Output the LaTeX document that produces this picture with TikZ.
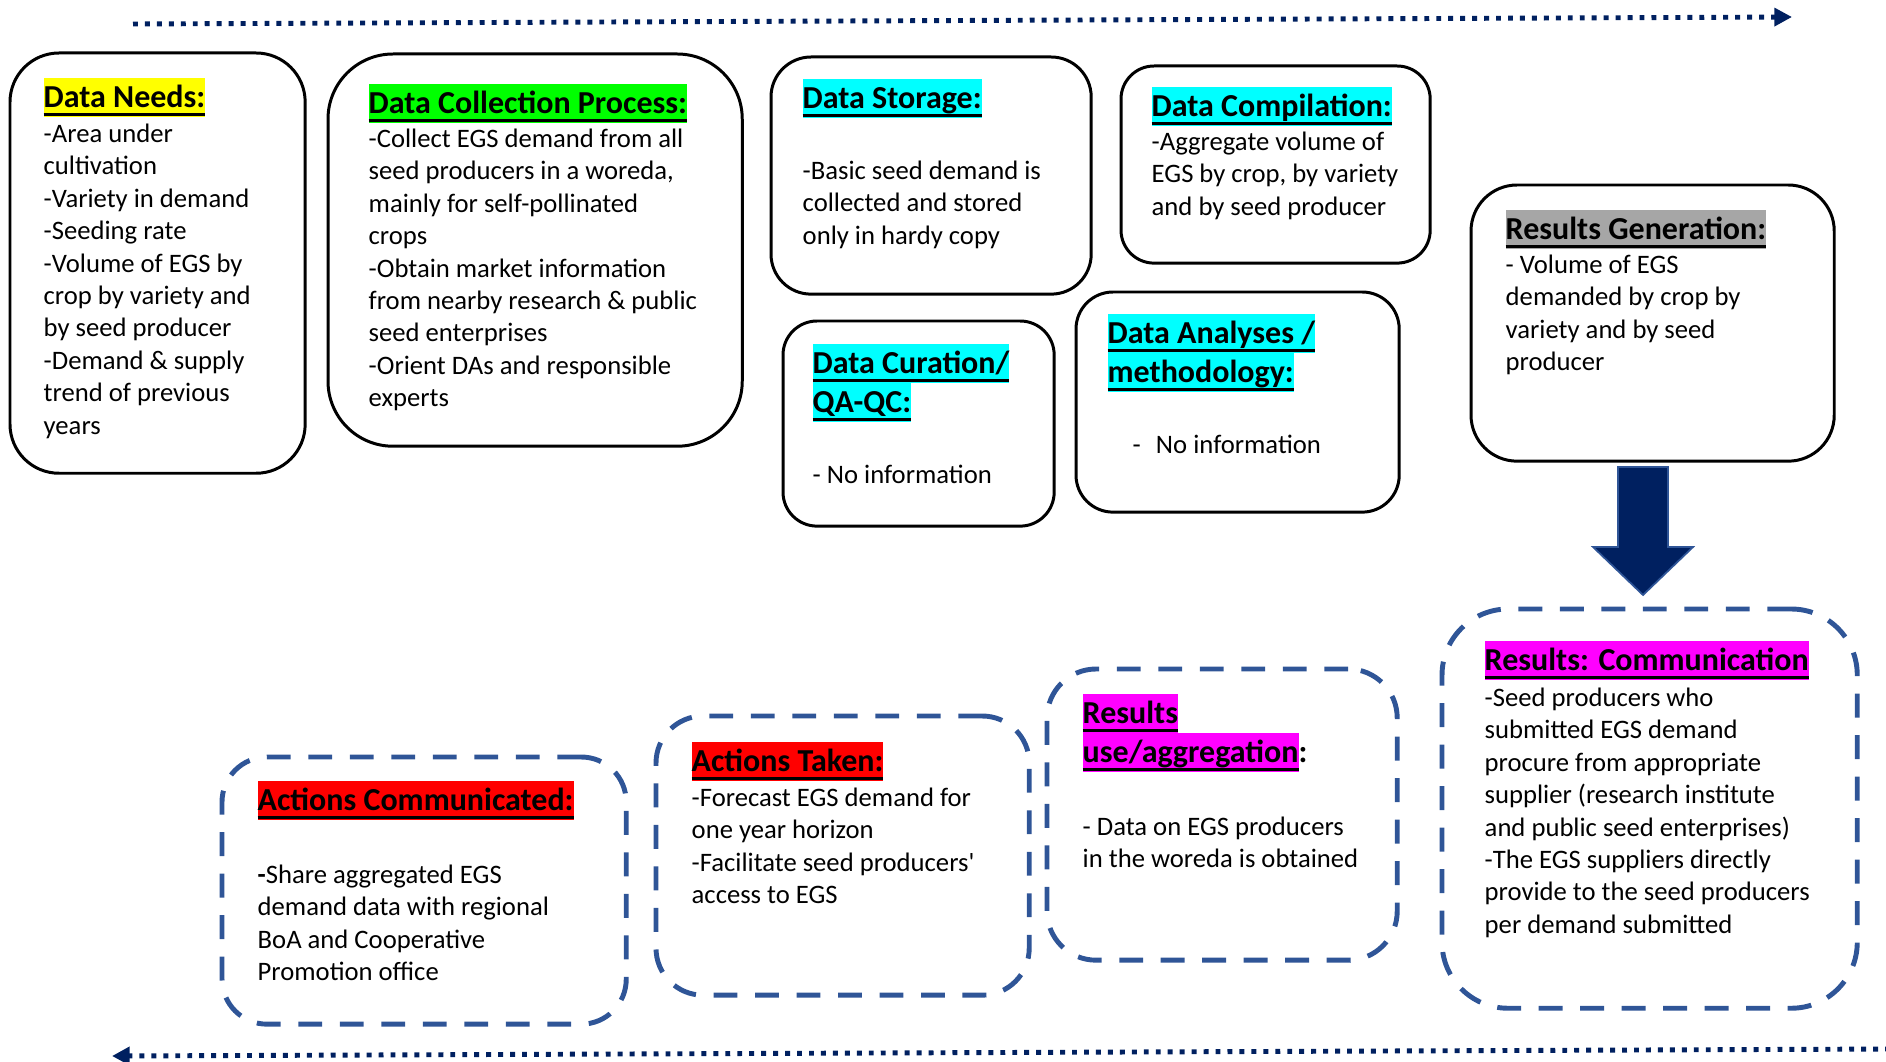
\documentclass[tikz,border=0pt]{standalone}
\usepackage{fontspec}
\setmainfont{Carlito}
\usetikzlibrary{arrows.meta}

\definecolor{navy}{HTML}{002060}
\definecolor{dashblue}{HTML}{2F5597}
\definecolor{hlyellow}{HTML}{FFFF00}
\definecolor{hlgreen}{HTML}{00FF00}
\definecolor{hlcyan}{HTML}{00FFFF}
\definecolor{hlgray}{HTML}{A6A6A6}
\definecolor{hlmag}{HTML}{FF00FF}
\definecolor{hlred}{HTML}{FF0000}

\newcommand{\ttlfont}{\fontsize{9.1}{11.1}\selectfont\bfseries}
\newcommand{\bodyfont}{\fontsize{7.58}{9.22}\selectfont}
\newcommand{\ulbar}[1]{\setbox0=\hbox{#1}\rlap{\rule[-2.5pt]{\wd0}{1pt}}\box0}
\newcommand{\hlt}[2]{{\setlength{\fboxsep}{0pt}\colorbox{#1}{\rule[-2.7pt]{0pt}{11.1pt}\ulbar{#2}}}}

\tikzset{
  solidbox/.style={draw, line width=0.85pt, inner sep=0pt, outer sep=0pt, anchor=north west},
  dashbox/.style={draw=dashblue, line width=1.4pt, dash pattern=on 6.8pt off 5pt, inner sep=0pt, outer sep=0pt, anchor=north west},
  ttl/.style={anchor=north west, inner sep=0pt, align=left, font=\ttlfont},
  body/.style={anchor=north west, inner sep=0pt, align=left, font=\bodyfont},
  flow/.style={navy, line width=1.4pt, dash pattern=on 1.4pt off 2pt, ->},
  bigarrow/.style={fill=navy, draw=dashblue, line width=0.5pt}
}

\begin{document}
\begin{tikzpicture}[x=0.01cm, y=-0.01cm, >={Triangle[length=5pt,width=5pt]}]
\useasboundingbox (0,0) rectangle (1886,1061);

% upper row
\node[solidbox, minimum width=2.95cm, minimum height=4.2cm, rounded corners=4.9mm] (needs) at (10,53) {};
\node[solidbox, minimum width=4.14cm, minimum height=3.92cm, rounded corners=6.5mm] (collect) at (328,54) {};
\node[solidbox, minimum width=3.2cm, minimum height=2.37cm, rounded corners=4mm] (store) at (771,57) {};
\node[solidbox, minimum width=3.09cm, minimum height=1.97cm, rounded corners=3.3mm] (compile) at (1121,66) {};
\node[solidbox, minimum width=3.63cm, minimum height=2.76cm, rounded corners=4.6mm] (gen) at (1471,185) {};
\node[solidbox, minimum width=2.71cm, minimum height=2.05cm, rounded corners=3.4mm] (curate) at (783,321) {};
\node[solidbox, minimum width=3.23cm, minimum height=2.2cm, rounded corners=3.7mm] (analyse) at (1076,292) {};

% lower row
\node[dashbox, minimum width=4.15cm, minimum height=3.99cm, rounded corners=6.6mm] (comm) at (1442,609) {};
\node[dashbox, minimum width=3.5cm, minimum height=2.91cm, rounded corners=4.9mm] (use) at (1047,669) {};
\node[dashbox, minimum width=3.73cm, minimum height=2.79cm, rounded corners=4.7mm] (taken) at (656,716) {};
\node[dashbox, minimum width=4.04cm, minimum height=2.67cm, rounded corners=4.5mm] (told) at (222,757) {};

\node[ttl] (needs-t) at (43,77) {\hlt{hlyellow}{Data Needs:}};
\node[body] (needs-b) at (43,119) {\strut-Area under\\cultivation\\-Variety in demand\\-Seeding rate\\-Volume of EGS by\\crop by variety and\\by seed producer\\-Demand \& supply\\trend of previous\\years};

\node[ttl] (collect-t) at (368,83) {\hlt{hlgreen}{Data Collection Process:}};
\node[body] (collect-b) at (368,124) {\strut-Collect EGS demand from all\\seed producers in a woreda,\\mainly for self-pollinated\\crops\\-Obtain market information\\from nearby research \& public\\seed enterprises\\-Orient DAs and responsible\\experts};

\node[ttl] (store-t) at (802,78) {\hlt{hlcyan}{Data Storage:}};
\node[body] (store-b) at (802,156) {\strut-Basic seed demand is\\collected and stored\\only in hardy copy};

\node[ttl] (compile-t) at (1151,86) {\hlt{hlcyan}{Data Compilation:}};
\node[body] (compile-b) at (1151,127) {\strut-Aggregate volume of\\EGS by crop, by variety\\and by seed producer};

\node[ttl] (gen-t) at (1505,209) {\hlt{hlgray}{Results Generation:}};
\node[body] (gen-b) at (1505,250) {\strut- Volume of EGS\\demanded by crop by\\variety and by seed\\producer};

\node[ttl] (curate-t) at (812,343) {\hlt{hlcyan}{Data Curation/}\\\hlt{hlcyan}{QA-QC:}};
\node[body] (curate-b) at (812,460) {\strut- No information};

\node[ttl] (analyse-t) at (1107,313) {\hlt{hlcyan}{Data Analyses /}\\\hlt{hlcyan}{methodology:}};
\node[body] (analyse-b) at (1132,430) {\strut-\hspace{4.3pt}No information};

\node[ttl] (comm-t) at (1484,640) {\hlt{hlmag}{Results: Communication}};
\node[body] (comm-b) at (1484,683) {\strut-Seed producers who\\submitted EGS demand\\procure from appropriate\\supplier (research institute\\and public seed enterprises)\\-The EGS suppliers directly\\provide to the seed producers\\per demand submitted};

\node[ttl] (use-t) at (1082,693) {\hlt{hlmag}{Results}\\\hlt{hlmag}{use/aggregation}:};
\node[body] (use-b) at (1082,812) {\strut- Data on EGS producers\\in the woreda is obtained};

\node[ttl] (taken-t) at (691,741) {\hlt{hlred}{Actions Taken:}};
\node[body] (taken-b) at (691,783) {\strut-Forecast EGS demand for\\one year horizon\\-Facilitate seed producers\textquotesingle\\access to EGS};

\node[ttl] (told-t) at (257,780) {\hlt{hlred}{Actions Communicated:}};
\node[body] (told-b) at (257,860) {\strut{\bfseries -}Share aggregated EGS\\demand data with regional\\BoA and Cooperative\\Promotion office};

% flow arrows
\coordinate (flowL) at (133,24);
\coordinate (flowR) at (1792,17);
\draw[flow] (flowL) -- (flowR);

\coordinate (backR) at (1890,1049);
\coordinate (backL) at (112,1056);
\draw[flow] (backR) -- (backL);

\coordinate (drop) at (1643,467);
\draw[bigarrow] (drop) ++(-25,0) -- ++(50,0) -- ++(0,80) -- ++(25,0) -- ++(-50,48) -- ++(-50,-48) -- ++(25,0) -- cycle;

\end{tikzpicture}
\end{document}
